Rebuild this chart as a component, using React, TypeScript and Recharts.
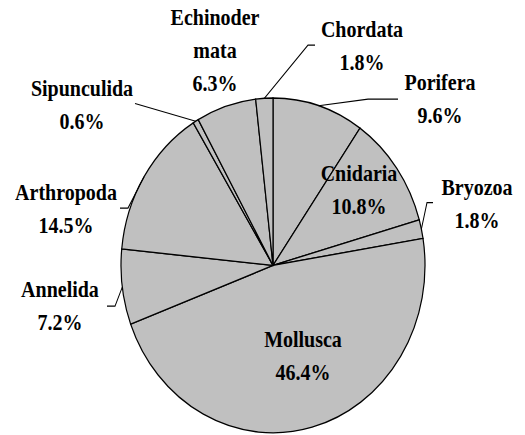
import React from 'react';
import { PieChart, Pie, Cell } from 'recharts';

// phyla share of species, clockwise from 12 o'clock
const phyla = ['Porifera', 'Cnidaria', 'Bryozoa', 'Mollusca', 'Annelida', 'Arthropoda', 'Sipunculida', 'Echinodermata', 'Chordata'];
const shares = [9.6, 10.8, 1.8, 46.4, 7.2, 14.5, 0.6, 6.3, 1.8];
const labelText = ['Porifera', 'Cnidaria', 'Bryozoa', 'Mollusca', 'Annelida', 'Arthropoda', 'Sipunculida', 'Echinoder\nmata', 'Chordata'];

const data = phyla.map((name, i) => ({ name, value: shares[i], label: labelText[i] }));

const W = 525;
const H = 395;
const STRETCH = 435 / H; // the source picture is a bit taller than wide
const RAD = Math.PI / 180;
const LINE = 30;
const FONT_STYLE = { fontFamily: 'Liberation Serif', fontWeight: 700, fontSize: 20 };

// label anchor (first baseline) and leader points, relative to pie centre
const LAYOUT: Record<string, { dx: number; dy: number; lead?: number[][] }> = {
  Porifera: { dx: 167, dy: -159, lead: [[95, -151], [125, -151]] },
  Cnidaria: { dx: 86, dy: -77 },
  Bryozoa: { dx: 204, dy: -64, lead: [[154, -57], [160, -57]] },
  Mollusca: { dx: 30, dy: 74 },
  Annelida: { dx: -213, dy: 29, lead: [[-158, 37], [-166, 37]] },
  Arthropoda: { dx: -207, dy: -59, lead: [[-145, -52], [-153, -52]] },
  Sipunculida: { dx: -191, dy: -154, lead: [[-138, -147]] },
  Echinodermata: { dx: -58, dy: -218 },
  Chordata: { dx: 89, dy: -207, lead: [[35, -200], [42, -200]] },
};

const renderLabel = (props: any) => {
  const { cx, cy, payload, value } = props;
  const pos = LAYOUT[payload.name];
  const lines = [...String(payload.label).split('\n'), `${Number(value).toFixed(1)}%`];
  return (
    <g>
      {lines.map((t, i) => (
        <text key={i} x={cx + pos.dx} y={cy + pos.dy + i * LINE} textAnchor="middle" style={FONT_STYLE} fill="#000">
          {t}
        </text>
      ))}
    </g>
  );
};

const renderLeader = (props: any) => {
  const { cx, cy, midAngle, outerRadius, payload } = props;
  const pos = LAYOUT[payload.name];
  if (!pos || !pos.lead) return <g />;
  const sx = cx + outerRadius * Math.cos(-midAngle * RAD);
  const sy = cy + outerRadius * Math.sin(-midAngle * RAD);
  const pts = [[sx, sy], ...pos.lead.map(([x, y]) => [cx + x, cy + y])];
  return <polyline points={pts.map((p) => p.join(',')).join(' ')} fill="none" stroke="#000" strokeWidth={1} />;
};

export default function App() {
  return (
    <div style={{ position: 'absolute', left: 0, top: 0, width: 525, height: 435, background: '#fff' }}>
      <div style={{ transform: `scaleY(${STRETCH})`, transformOrigin: '0 0' }}>
        <PieChart width={W} height={H} margin={{ top: 0, right: 0, bottom: 0, left: 0 }}>
          <Pie
            data={data}
            dataKey="value"
            nameKey="name"
            cx={273}
            cy={241}
            outerRadius={152}
            startAngle={90}
            endAngle={-270}
            stroke="#000"
            strokeWidth={1.2}
            label={renderLabel}
            labelLine={renderLeader}
            isAnimationActive={false}
          >
            {data.map((d) => (
              <Cell key={d.name} fill="#c0c0c0" />
            ))}
          </Pie>
        </PieChart>
      </div>
    </div>
  );
}
